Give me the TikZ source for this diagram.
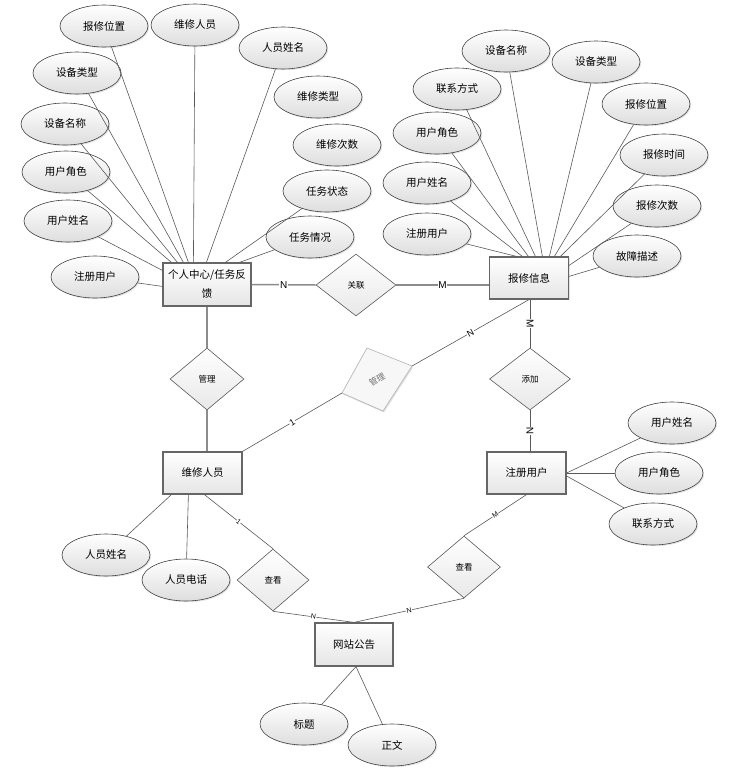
\documentclass[tikz,border=0pt]{standalone}
\usepackage{fontspec}
\setmainfont{Liberation Sans}
\newfontfamily\cjk{Noto Sans CJK SC}
\usetikzlibrary{shapes.geometric,shadows,calc}
\begin{document}
\begin{tikzpicture}[x=1pt,y=-1pt,
 shd/.style={drop shadow={shadow xshift=1.2pt,shadow yshift=-1.2pt,opacity=0.22}},
 ent/.style={rectangle,draw=black!60,line width=1.2pt,top color=white,bottom color=black!10,minimum width=79pt,minimum height=42pt,inner sep=1pt,font=\cjk\fontsize{10.5}{19}\selectfont,align=center,shd},
 attr/.style={ellipse,draw=black!75,line width=0.6pt,top color=white,bottom color=black!13,minimum width=88pt,minimum height=42pt,inner sep=0pt,font=\cjk\fontsize{10.5}{12}\selectfont,shd},
 rel/.style={diamond,draw=black!65,line width=0.6pt,top color=white,bottom color=black!9,inner sep=0pt,minimum height=62pt,font=\cjk\fontsize{8.5}{10}\selectfont},
 link/.style={draw=black!45,line width=1.5pt},
 thin/.style={draw=black!65,line width=0.6pt},
 card/.style={font=\fontsize{10}{10}\selectfont,fill=white,inner sep=0.6pt},
 scard/.style={font=\fontsize{7}{7}\selectfont,fill=white,inner sep=0.3pt,sloped},
]
\useasboundingbox (0,0) rectangle (741,777);

% entities
\node[ent,minimum width=88pt,minimum height=43pt] (E1) at (207,284.5) {个人中心/任务反\\馈};
\node[ent] (E2) at (529,278) {报修信息};
\node[ent] (E3) at (202.5,473) {维修人员};
\node[ent] (E4) at (526.5,473) {注册用户};
\node[ent,minimum width=78pt,minimum height=43pt] (E5) at (354,644.5) {网站公告};

% relations
\node[rel,minimum width=80pt] (R1) at (356,285) {关联};
\node[rel,minimum width=74pt] (R2) at (207,379) {管理};
\node[rel,minimum width=81pt] (R3) at (530,379) {添加};
\node[rel,minimum width=72pt] (R5) at (273,580) {查看};
\node[rel,minimum width=73pt] (R6) at (464,567) {查看};

% rotated gray relation
\coordinate (R4t) at (367,348);
\coordinate (R4r) at (412,366);
\coordinate (R4b) at (383,411);
\coordinate (R4l) at (342,393);
\fill[black!12] ($(R4t)+(1,1.5)$) -- ($(R4r)+(1,1.5)$) -- ($(R4b)+(1,1.5)$) -- ($(R4l)+(1,1.5)$) -- cycle;
\filldraw[draw=black!30,fill=black!3,line width=0.6pt] (R4t) -- (R4r) -- (R4b) -- (R4l) -- cycle;
\node[rotate=30,text=black!55,font=\cjk\fontsize{8.5}{10}\selectfont] (R4) at (377,379.5) {管理};

% attributes of E1
\node[attr] (a1) at (104,26) {报修位置};
\node[attr] (a2) at (195,25) {维修人员};
\node[attr] (a3) at (283,48) {人员姓名};
\node[attr] (a4) at (318,97) {维修类型};
\node[attr] (a5) at (337,145) {维修次数};
\node[attr] (a6) at (327,191) {任务状态};
\node[attr] (a7) at (310,237) {任务情况};
\node[attr] (a8) at (77,73) {设备类型};
\node[attr] (a9) at (65,124) {设备名称};
\node[attr] (a10) at (66,172) {用户角色};
\node[attr] (a11) at (68,221) {用户姓名};
\node[attr] (a12) at (95,277) {注册用户};

% attributes of E2
\node[attr] (b1) at (506,51) {设备名称};
\node[attr] (b2) at (596,62) {设备类型};
\node[attr] (b3) at (457,89) {联系方式};
\node[attr] (b4) at (646,104) {报修位置};
\node[attr] (b5) at (437,133) {用户角色};
\node[attr] (b6) at (664,155) {报修时间};
\node[attr] (b7) at (427,183) {用户姓名};
\node[attr] (b8) at (657,206) {报修次数};
\node[attr] (b9) at (427,234) {注册用户};
\node[attr] (b10) at (637,256) {故障描述};

% attributes of E3, E4, E5
\node[attr] (c1) at (106,555) {人员姓名};
\node[attr] (c2) at (186,580) {人员电话};
\node[attr] (d1) at (672,423) {用户姓名};
\node[attr] (d2) at (659,473) {用户角色};
\node[attr] (d3) at (653,524) {联系方式};
\node[attr] (f1) at (304,724) {标题};
\node[attr] (f2) at (392,745) {正文};

% attribute lines E1
\draw[thin] (a10) -- ($(E1.north west)+(9,0)$);
\draw[thin] (a9) -- ($(E1.north west)+(15,0)$);
\draw[thin] (a8) -- ($(E1.north west)+(21,0)$);
\draw[thin] (a1) -- ($(E1.north west)+(26,0)$);
\draw[thin] (a2) -- ($(E1.north west)+(31,0)$);
\draw[thin] (a3) -- ($(E1.north west)+(44,0)$);
\draw[thin] (a6) -- ($(E1.north west)+(63,0)$);
\draw[thin] (a7) -- ($(E1.north west)+(77,0)$);
\draw[thin] (a11) -- ($(E1.north west)+(0,8)$);
\draw[thin] (a12) -- ($(E1.north west)+(0,24)$);

% attribute lines E2
\draw[thin] (b9) -- ($(E2.north west)+(27.5,0)$);
\draw[thin] (b7) -- ($(E2.north west)+(33.5,0)$);
\draw[thin] (b5) -- ($(E2.north west)+(39.5,0)$);
\draw[thin] (b3) -- ($(E2.north west)+(46.5,0)$);
\draw[thin] (b1) -- ($(E2.north west)+(53.5,0)$);
\draw[thin] (b2) -- ($(E2.north west)+(60.5,0)$);
\draw[thin] (b4) -- ($(E2.north west)+(65.5,0)$);
\draw[thin] (b6) -- ($(E2.north west)+(71.5,0)$);
\draw[thin] (b8) -- ($(E2.north east)+(0,9)$);
\draw[thin] (b10) -- ($(E2.north east)+(0,20)$);

% attribute lines E3, E4, E5
\draw[thin] (c1) -- ($(E3.south west)+(9,0)$);
\draw[thin] (c2) -- ($(E3.south west)+(26,0)$);
\draw[thin] (d1) -- (E4.east);
\draw[thin] (d2) -- (E4.east);
\draw[thin] (d3) -- ($(E4.east)+(0,3)$);
\draw[thin] (f1) -- ($(E5.south)+(2,0)$);
\draw[thin] (f2) -- ($(E5.south)+(2,0)$);

% relationship lines
\draw[link] (E1.east) -- (R1.west) node[card,midway]{N};
\draw[link] (R1.east) -- (R1.east -| E2.west) node[card,midway]{M};
\draw[link] (E1.south) -- (R2.north);
\draw[link] (R2.south) -- (R2.south |- E3.north);
\draw[thin] (R3.north |- E2.south) -- (R3.north) node[card,midway,rotate=-90]{M};
\draw[thin] (R3.south) -- (R3.south |- E4.north) node[card,midway,rotate=90]{N};
\draw[thin] (E3.north east) -- (R4l) node[card,midway,sloped,font=\fontsize{9}{9}\selectfont]{1};
\draw[thin] (R4r) -- (E2.south) node[card,midway,sloped,font=\fontsize{9}{9}\selectfont]{N};
\draw[thin] ($(E3.south west)+(42,0)$) -- (R5.north) node[scard,midway]{1};
\draw[thin] (R5.south) -- (E5.north) node[scard,midway]{N};
\draw[thin] (R6.south) -- (E5.north) node[scard,midway]{N};
\draw[thin] (E4.south) -- (R6.north) node[scard,midway]{M};
\end{tikzpicture}
\end{document}
